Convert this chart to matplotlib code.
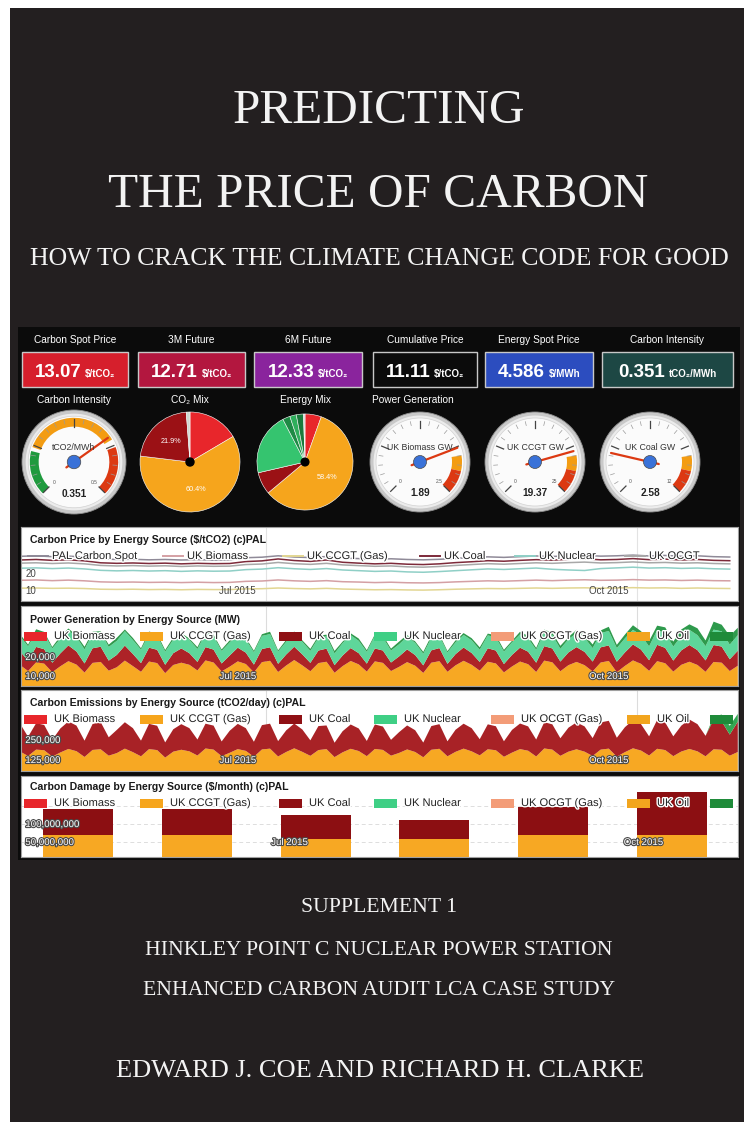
import numpy as np
import matplotlib
matplotlib.use("Agg")
import matplotlib.pyplot as plt
import matplotlib.dates as mdates
import matplotlib.patheffects as pe
from matplotlib.patches import Rectangle, Circle, Wedge

# ------------------------------------------------------------------ data
title_lines = ["PREDICTING", "THE PRICE OF CARBON"]
subtitle = "HOW TO CRACK THE CLIMATE CHANGE CODE FOR GOOD"
bottom_lines = ["SUPPLEMENT 1", "HINKLEY POINT C NUCLEAR POWER STATION",
                "ENHANCED CARBON AUDIT LCA CASE STUDY"]
authors = "EDWARD J. COE AND RICHARD H. CLARKE"

stat_titles = ["Carbon Spot Price", "3M Future", "6M Future",
               "Cumulative Price", "Energy Spot Price", "Carbon Intensity"]
stat_values = ["13.07", "12.71", "12.33", "11.11", "4.586", "0.351"]
stat_units = ["$/tCO₂", "$/tCO₂", "$/tCO₂", "$/tCO₂", "$/MWh", "tCO₂/MWh"]
stat_colors = ["#d61f2c", "#b3173f", "#8a249d", "#0b0b0b", "#2c4dbf", "#1d4744"]

row2_titles = ["Carbon Intensity", "CO₂ Mix", "Energy Mix", "Power Generation"]

# gauges: label, value, max, value text
gauge_labels = ["tCO2/MWh", "UK Biomass GW", "UK CCGT GW", "UK Coal GW"]
gauge_values = [0.351, 1.89, 19.37, 2.58]
gauge_max = [0.5, 2.5, 25, 12]
gauge_max_text = ["0.5", "2.5", "25", "12"]

co2_mix = [16.5, 60.4, 21.9, 1.2]
co2_colors = ["#e8262b", "#f6a51c", "#9b1115", "#cfd8d0"]
energy_mix = [5.5, 58.4, 7.5, 21.0, 2.5, 2.2, 2.4, 0.5]
energy_colors = ["#e8262b", "#f6a51c", "#9b1115", "#35c46f", "#1e8a45",
                 "#2fae5c", "#1a7a3c", "#d0d0d0"]

series_names = ["UK Biomass", "UK CCGT (Gas)", "UK Coal", "UK Nuclear",
                "UK OCGT (Gas)", "UK Oil"]
series_colors = ["#e8262b", "#f6a51c", "#8f1014", "#3fcf85", "#f39c78", "#f2a51e", "#1f8b3a"]

# Panel 1 : carbon price ($/tCO2), every 4 days from 1 May 2015
price_names = ["PAL Carbon Spot", "UK Biomass", "UK CCGT (Gas)", "UK Coal", "UK Nuclear", "UK OCGT"]
price_colors = ["#8f8a98", "#d4a0a4", "#e2d692", "#7d2a3a", "#8fcfc6", "#a8a8a8"]
price_spot = [30.1, 30.4, 29.9, 30.2, 29.7, 28.6, 28.3, 28.4, 28.1,
              28.3, 28.0, 28.2, 27.9, 28.1, 29.3, 29.6, 30.4, 29.7,
              29.4, 30.0, 29.1, 28.8, 28.4, 28.7, 28.3, 28.1, 28.4,
              28.9, 29.4, 29.8, 29.5, 29.9, 30.3, 30.0, 30.4, 30.7,
              30.2, 30.4, 30.8, 30.3, 30.6, 30.1, 30.4, 29.9, 29.7]
price_biomass = [16.4, 16.6, 16.2, 16.5, 16.1, 15.5, 15.3, 15.4, 15.2,
                 15.3, 15.1, 15.3, 15.1, 15.2, 15.8, 16.0, 16.6, 16.1,
                 15.8, 16.2, 15.6, 15.4, 15.1, 15.3, 15.0, 14.9, 15.1,
                 15.5, 15.8, 16.1, 15.9, 16.2, 16.5, 16.2, 16.5, 16.7,
                 16.4, 16.5, 16.8, 16.5, 16.6, 16.3, 16.5, 16.2, 16.1]
price_ccgt = [11.9, 12.0, 11.8, 11.9, 11.7, 11.3, 11.2, 11.3, 11.1,
              11.2, 11.0, 11.2, 11.1, 11.1, 11.5, 11.6, 12.0, 11.7,
              11.5, 11.8, 11.4, 11.2, 11.0, 11.1, 10.9, 10.8, 11.0,
              11.3, 11.5, 11.7, 11.6, 11.8, 12.0, 11.8, 12.0, 12.1,
              11.9, 12.0, 12.2, 12.0, 12.1, 11.8, 12.0, 11.8, 11.7]
price_coal = [28.0, 28.3, 27.8, 28.1, 27.5, 26.4, 26.1, 26.3, 26.0,
              26.2, 25.8, 26.1, 25.9, 26.0, 27.1, 27.5, 28.6, 27.7,
              27.2, 28.0, 26.7, 26.2, 25.8, 26.1, 25.6, 25.4, 25.8,
              26.5, 27.0, 27.6, 27.3, 27.8, 28.2, 27.9, 28.4, 28.7,
              28.1, 28.3, 28.8, 28.2, 28.5, 28.0, 28.3, 27.8, 27.6]
price_nuclear = [23.3, 23.5, 23.1, 23.4, 22.9, 22.1, 21.8, 22.0, 21.7,
                 21.9, 21.5, 21.8, 21.6, 21.7, 22.5, 22.8, 23.6, 23.0,
                 22.6, 23.1, 22.3, 21.9, 21.5, 21.7, 21.2, 21.0, 21.4,
                 21.9, 22.4, 22.9, 22.6, 23.0, 23.4, 22.7, 22.3, 22.0,
                 23.1, 23.5, 23.9, 23.4, 23.6, 23.2, 23.4, 23.0, 22.8]
price_ocgt = [26.2, 26.4, 26.0, 26.3, 25.8, 24.9, 24.6, 24.8, 24.5,
              24.7, 24.3, 24.6, 24.4, 24.5, 25.4, 25.7, 26.6, 25.9,
              25.5, 26.1, 25.2, 24.8, 24.4, 24.6, 24.1, 23.9, 24.3,
              24.9, 25.4, 25.9, 25.6, 26.0, 26.4, 26.1, 26.5, 26.8,
              26.3, 26.5, 26.9, 26.4, 26.6, 26.2, 26.4, 26.0, 25.8]

# Panel 2 : power generation (thousand MW), every 2 days from 1 May 2015
gen_ccgt = [15.8, 12.6, 17.2, 16.5, 12.0, 15.1, 17.8,
            16.0, 11.8, 16.9, 17.4, 12.8, 14.6, 18.1,
            15.2, 12.2, 17.6, 16.8, 11.5, 15.8, 17.0,
            15.9, 12.9, 18.2, 17.1, 12.4, 14.9, 17.7,
            16.3, 11.9, 17.3, 18.0, 12.1, 15.5, 18.4,
            15.6, 12.5, 16.8, 17.5, 11.7, 15.2, 17.9,
            16.1, 12.3, 17.7, 16.9, 12.6, 14.8, 17.3,
            15.4, 11.6, 17.0, 17.8, 12.2, 15.6, 18.0,
            15.9, 12.8, 17.5, 16.6, 11.9, 15.0, 17.6,
            16.2, 12.1, 18.1, 17.2, 12.5, 15.7, 17.4,
            15.7, 12.4, 17.1, 17.9, 12.0, 15.3, 18.2,
            16.4, 12.7, 17.8, 16.7, 12.3, 15.9, 17.5,
            15.8, 12.2, 17.4, 17.0, 12.6, 15.4]
gen_coal = [7.2, 5.4, 8.1, 7.6, 5.0, 6.8, 8.3,
            6.9, 4.8, 7.7, 8.0, 5.3, 6.5, 7.9,
            6.4, 4.6, 7.3, 7.0, 4.4, 6.2, 7.5,
            6.1, 4.5, 7.0, 6.8, 4.2, 5.9, 7.2,
            6.0, 4.1, 6.9, 7.1, 4.3, 5.8, 7.0,
            5.8, 4.4, 6.6, 6.9, 4.0, 5.6, 6.8,
            5.9, 4.2, 6.8, 6.5, 4.5, 5.5, 6.7,
            5.6, 4.0, 6.5, 6.9, 4.2, 5.9, 7.0,
            6.2, 4.6, 7.1, 6.8, 4.4, 6.1, 7.3,
            6.6, 4.9, 7.6, 7.3, 5.1, 6.7, 7.8,
            7.0, 5.2, 8.0, 8.2, 5.5, 7.1, 8.4,
            7.5, 5.6, 8.6, 8.1, 5.8, 7.6, 8.8,
            7.8, 6.0, 8.9, 8.5, 6.2, 7.9]
gen_nuclear = [7.9, 7.6, 7.8, 8.0, 7.5, 7.7, 7.9,
               7.6, 7.4, 7.7, 7.5, 7.2, 7.4, 7.6,
               7.3, 7.0, 7.2, 7.4, 6.9, 7.1, 7.3,
               7.0, 6.8, 7.1, 6.9, 6.6, 6.9, 7.0,
               6.8, 6.5, 6.9, 7.0, 6.4, 6.7, 6.9,
               6.6, 6.3, 6.7, 6.5, 6.2, 6.5, 6.8,
               6.5, 6.2, 6.6, 6.8, 6.3, 6.4, 6.7,
               6.4, 6.1, 6.5, 6.3, 6.0, 6.2, 6.6,
               6.7, 6.4, 6.8, 6.9, 6.5, 6.6, 7.0,
               7.0, 6.8, 7.2, 7.1, 6.7, 7.0, 7.3,
               7.4, 7.1, 7.5, 7.6, 7.2, 7.4, 7.7,
               7.6, 7.3, 7.8, 7.7, 7.4, 7.6, 8.0,
               7.9, 7.5, 8.1, 8.0, 7.7, 8.2]
gen_wind = [1.2, 0.9, 1.5, 1.1, 0.8, 1.3, 1.0,
            0.9, 1.4, 1.0, 0.7, 1.2, 1.6, 0.9,
            1.1, 0.8, 1.3, 1.0, 0.9, 1.2, 0.8,
            0.7, 1.0, 1.4, 0.9, 0.8, 1.1, 1.3,
            1.0, 0.8, 0.9, 1.2, 0.7, 1.0, 1.1,
            0.8, 1.1, 1.0, 0.9, 1.3, 0.8, 1.0,
            1.2, 0.9, 0.8, 1.1, 1.0, 1.4, 0.9,
            0.8, 1.0, 1.2, 0.9, 0.7, 1.1, 1.0,
            1.1, 1.3, 0.9, 1.2, 1.0, 0.8, 1.4,
            1.3, 1.0, 1.5, 1.2, 1.6, 1.1, 1.8,
            1.5, 1.9, 1.4, 2.2, 1.7, 2.0, 2.4,
            2.1, 2.8, 2.3, 3.1, 2.6, 3.4, 2.9,
            3.6, 3.0, 4.2, 3.5, 4.6, 3.9]

# Panel 3 : carbon emissions (thousand tCO2/day), every 2 days
em_ccgt = [178, 150, 190, 186, 146, 172, 194,
           180, 144, 188, 192, 152, 168, 196,
           174, 148, 193, 187, 140, 177, 189,
           179, 153, 197, 190, 149, 170, 193,
           182, 145, 191, 196, 147, 175, 198,
           176, 151, 187, 193, 143, 173, 195,
           181, 149, 194, 188, 152, 169, 191,
           175, 142, 189, 195, 148, 176, 196,
           179, 154, 192, 186, 145, 171, 193,
           183, 147, 197, 190, 151, 177, 192,
           177, 150, 190, 196, 146, 174, 198,
           184, 153, 195, 187, 149, 178, 194,
           179, 148, 192, 189, 152, 175]
em_coal = [175, 120, 165, 158, 105, 150, 172,
           160, 102, 162, 170, 115, 145, 165,
           150, 98, 158, 152, 95, 140, 160,
           145, 100, 155, 150, 92, 138, 158,
           142, 94, 152, 156, 96, 135, 155,
           140, 97, 150, 148, 90, 132, 152,
           141, 95, 153, 146, 99, 130, 150,
           136, 92, 148, 154, 94, 138, 156,
           145, 101, 156, 150, 97, 142, 160,
           152, 106, 164, 158, 110, 150, 168,
           158, 112, 170, 174, 118, 156, 176,
           165, 120, 180, 172, 124, 162, 184,
           170, 128, 186, 178, 132, 190]
em_other = [0, 0, 0, 0, 0, 0, 0, 0, 0, 0, 0, 0, 0, 0, 0, 0, 0, 0,
            0, 0, 0, 0, 0, 0, 0, 0, 0, 0, 0, 0, 0, 0, 0, 0, 0, 0,
            0, 0, 0, 0, 0, 0, 0, 0, 0, 0, 0, 0, 0, 0, 0, 0, 0, 0,
            0, 0, 0, 0, 0, 0, 0, 0, 0, 0, 0, 0, 0, 0, 0, 0, 0, 0,
            0, 0, 0, 0, 0, 0, 0, 0, 0, 0, 0, 0, 0, 0, 18, 42, 55, 48]

# Panel 4 : monthly carbon damage (million $)
dmg_months = ["May 2015", "Jun 2015", "Jul 2015", "Aug 2015", "Sep 2015", "Oct 2015"]
dmg_ccgt = [69, 69, 58, 58, 69, 69]
dmg_coal = [72, 72, 67, 53, 78, 120]

# ------------------------------------------------------------------ setup
W, H = 745, 1122
plt.rcParams['font.family'] = ['Liberation Sans', 'DejaVu Sans']
SERIF = ['Liberation Serif', 'DejaVu Serif']
fig = plt.figure(figsize=(W / 100, H / 100), dpi=100)
fig.patch.set_facecolor('white')


def px_axes(x, y, w, h, z=1):
    return fig.add_axes([x / W, 1 - (y + h) / H, w / W, h / H], zorder=z)


bg = px_axes(0, 0, W, H, 0)
ov = px_axes(0, 0, W, H, 50)
for a in (bg, ov):
    a.set_xlim(0, W)
    a.set_ylim(H, 0)
    a.axis('off')

bg.add_patch(Rectangle((10, 8), W - 11, H - 8, fc='#231f20', ec='none'))
bg.add_patch(Rectangle((18, 327), 722, 533, fc='#0b0b0b', ec='none'))

# titles
tcol = '#f3f3f3'
bg.text(379, 123, title_lines[0], family=SERIF, fontsize=35.5, color=tcol, ha='center', va='baseline')
bg.text(378, 207, title_lines[1], family=SERIF, fontsize=35.5, color=tcol, ha='center', va='baseline')
bg.text(379, 265, subtitle, family=SERIF, fontsize=18.6, color=tcol, ha='center', va='baseline')
for txt, yb in zip(bottom_lines, [912, 955, 995]):
    bg.text(379, yb, txt, family=SERIF, fontsize=15.6, color=tcol, ha='center', va='baseline')
bg.text(380, 1077, authors, family=SERIF, fontsize=19, color=tcol, ha='center', va='baseline')

# ------------------------------------------------------------------ stat boxes
renderer = fig.canvas.get_renderer()
box_x0 = [22, 138, 254, 373, 485, 602]
box_x1 = [128, 245, 362, 477, 593, 733]
for t, v, u, c, x0, x1 in zip(stat_titles, stat_values, stat_units, stat_colors, box_x0, box_x1):
    cx = (x0 + x1) / 2
    ov.text(cx, 340, t, color='white', fontsize=7.3, ha='center', va='center')
    bg.add_patch(Rectangle((x0, 352), x1 - x0, 35, fc=c, ec='#c8c8c8', lw=1.0))
    tv = ov.text(0, 377, v, fontsize=13.5, weight='bold', color='white', va='baseline', ha='left')
    tu = ov.text(0, 377, u, fontsize=7, weight='bold', color='white', va='baseline', ha='left')
    wv = tv.get_window_extent(renderer).width
    wu = tu.get_window_extent(renderer).width
    start = cx - (wv + 4 + wu) / 2
    tv.set_x(start)
    tu.set_x(start + wv + 4)

row2_x = [74, 190, 305, 372]
for i, (t, x) in enumerate(zip(row2_titles, row2_x)):
    ov.text(x, 400, t, color='white', fontsize=7.3, ha='left' if i == 3 else 'center', va='center')

# ------------------------------------------------------------------ gauges


def gauge(cx, cy, R, label, value, vmax, maxtxt, bands):
    ax = px_axes(cx - R - 2, cy - R - 2, 2 * R + 4, 2 * R + 4, 5)
    s = (R + 2) / R
    ax.set_xlim(-s, s)
    ax.set_ylim(-s, s)
    ax.axis('off')
    ax.add_patch(Circle((0, 0), 1.0, fc='#c9c9c9', ec='#8d8d8d', lw=0.6))
    ax.add_patch(Circle((0, 0), 0.93, fc='#ececec', ec='none'))
    ax.add_patch(Circle((0, 0), 0.88, fc='#fbfbfb', ec='#d2d2d2', lw=0.5))

    def ang(v):
        return 225 - 270 * v / vmax
    for lo, hi, col, rout, wd in bands:
        ax.add_patch(Wedge((0, 0), rout, ang(hi), ang(lo), width=wd, fc=col, ec='none'))
    for k in range(21):
        a = np.radians(225 - 270 * k / 20)
        major = k % 5 == 0
        r0 = 0.68 if major else 0.75
        ax.plot([r0 * np.cos(a), 0.83 * np.cos(a)], [r0 * np.sin(a), 0.83 * np.sin(a)],
                color='#444444' if major else '#9a9a9a', lw=0.9 if major else 0.5)
    ax.text(0, 0.28, label, fontsize=6.3, color='#333333', ha='center', va='center')
    a = np.radians(ang(value))
    ax.plot([-0.18 * np.cos(a), 0.80 * np.cos(a)], [-0.18 * np.sin(a), 0.80 * np.sin(a)],
            color='#dc3912', lw=1.6, solid_capstyle='round')
    ax.add_patch(Circle((0, 0), 0.13, fc='#3a72d8', ec='#4a4a4a', lw=0.5, zorder=5))
    ax.text(0, -0.62, f"{value:g}", fontsize=7.3, weight='bold', color='#222222', ha='center', va='center')
    a0 = np.radians(225)
    a1 = np.radians(-45)
    ax.text(0.55 * np.cos(a0), 0.55 * np.sin(a0), "0", fontsize=3.5, color='#555555', ha='center', va='center')
    ax.text(0.55 * np.cos(a1), 0.55 * np.sin(a1), maxtxt, fontsize=3.5, color='#555555', ha='center', va='center')


g_centers = [(74, 462, 52), (420, 462, 50), (535, 462, 50), (650, 462, 50)]
g1_bands = [(0.0, 0.11, '#1f9a3e', 0.85, 0.17), (0.12, 0.36, '#f39c12', 0.85, 0.17),
            (0.38, 0.5, '#dc3912', 0.85, 0.17)]
for i, ((cx, cy, R), lab, v, vm, mt) in enumerate(zip(g_centers, gauge_labels, gauge_values,
                                                    gauge_max, gauge_max_text)):
    if i == 0:
        bands = g1_bands
    else:
        bands = [(0.80 * vm, 0.88 * vm, '#f39c12', 0.84, 0.2), (0.88 * vm, vm, '#dc3912', 0.84, 0.2)]
    gauge(cx, cy, R, lab, v, vm, mt, bands)

# ------------------------------------------------------------------ pies


def pie(cx, cy, R, vals, cols, thr):
    ax = px_axes(cx - R, cy - R, 2 * R, 2 * R, 5)
    ax.pie(vals, colors=cols, startangle=90, counterclock=False, radius=1.0,
           autopct=lambda p: f'{p:.1f}%' if p > thr else '', pctdistance=0.56,
           textprops=dict(color='white', fontsize=5.2),
           wedgeprops=dict(edgecolor='white', linewidth=0.4))
    ax.set_xlim(-1.02, 1.02)
    ax.set_ylim(-1.02, 1.02)
    ax.add_patch(Circle((0, 0), 0.08, color='black', zorder=5))


pie(190, 462, 51, co2_mix, co2_colors, 20)
pie(305, 462, 49, energy_mix, energy_colors, 25)

# ------------------------------------------------------------------ panels
jul1 = mdates.date2num(np.datetime64('2015-07-01'))
oct1 = mdates.date2num(np.datetime64('2015-10-01'))
scale = (637 - 266) / (oct1 - jul1)
XL = (jul1 - (266 - 21) / scale, oct1 + (738 - 637) / scale)
label_dates = [jul1 - 7, oct1 - 7]
label_txt = ["Jul 2015", "Oct 2015"]


def day_axis(n, step):
    return mdates.date2num(np.datetime64('2015-05-01') + np.arange(n) * np.timedelta64(step, 'D'))


def panel(y, h):
    ax = px_axes(21, y, 717, h, 10)
    ax.set_facecolor('white')
    for s in ax.spines.values():
        s.set_color('#a0a0a0')
        s.set_linewidth(0.8)
    ax.set_xticks([])
    ax.set_yticks([])
    return ax


halo_dark = [pe.withStroke(linewidth=1.6, foreground='#4a4a4a')]
halo_white = [pe.withStroke(linewidth=2.0, foreground='white')]


def ticklabels(ax, yvals, ytxt, xpos, xtxt, light):
    kw = dict(fontsize=7, zorder=20)
    if light:
        kw.update(color='white', path_effects=halo_dark)
    else:
        kw.update(color='#444444')
    for v, t in zip(yvals, ytxt):
        ax.text(0.006, v, t, transform=ax.get_yaxis_transform(), ha='left', va='center', **kw)
    for x, t in zip(xpos, xtxt):
        ax.text(x, min(yvals), t, ha='center', va='center', **kw)


def legend_rects(y, names, cols):
    xs = [24, 140, 279, 374, 491, 627, 710]
    for i, x in enumerate(xs):
        ov.add_patch(Rectangle((x, y - 4.5), 23, 9, fc=cols[i], ec='none'))
        if i < len(names):
            ov.text(x + 30, y, names[i], fontsize=8, color='#222222', va='center', ha='left',
                    path_effects=halo_white)


def panel_title(y, t):
    ov.text(30, y, t, fontsize=7.6, weight='bold', color='#1a1a1a', va='center', ha='left')


# Panel 1
ax1 = panel(527, 74)
ax1.set_xlim(*XL)
ax1.set_ylim(20 - (601 - 574) / 1.75, 20 + (574 - 527) / 1.75)
for d in (jul1, oct1):
    ax1.axvline(d, color='#e3e3e3', lw=0.8, zorder=0)
price_series = [price_spot, price_biomass, price_ccgt, price_coal, price_nuclear, price_ocgt]
for s, c in zip(price_series, price_colors):
    ax1.plot(day_axis(len(s), 4), s, color=c, lw=1.1)
ticklabels(ax1, [20, 10], ["20", "10"], label_dates, label_txt, False)
panel_title(540, "Carbon Price by Energy Source ($/tCO2) (c)PAL")
lx = [28, 163, 283, 420, 515, 625]
for x, n, c in zip(lx, price_names, price_colors):
    ov.plot([x, x + 20], [556, 556], color=c, lw=1.4)
    ov.text(x + 24, 556, n, fontsize=8, color='#222222', va='center', ha='left', path_effects=halo_white)

# Panel 2
ax2 = panel(606, 80)
ax2.set_xlim(*XL)
ax2.set_ylim(20 - (686 - 657) / 1.9, 20 + (657 - 606) / 1.9)
for d in (jul1, oct1):
    ax2.axvline(d, color='#dcdcdc', lw=0.8, zorder=0)
ax2.stackplot(day_axis(len(gen_ccgt), 2), gen_ccgt, gen_coal, gen_nuclear, gen_wind,
              colors=['#f7a823', '#ad2327', '#5ed69a', '#2e9a4c'], lw=0, zorder=2)
ticklabels(ax2, [20, 10], ["20,000", "10,000"], label_dates, label_txt, True)
panel_title(620, "Power Generation by Energy Source (MW)")
legend_rects(636, series_names, series_colors)

# Panel 3
ax3 = panel(690, 81)
ax3.set_xlim(*XL)
ax3.set_ylim(250 - (771 - 740) * 6.25, 250 + (740 - 690) * 6.25)
for d in (jul1, oct1):
    ax3.axvline(d, color='#dcdcdc', lw=0.8, zorder=0)
ax3.stackplot(day_axis(len(em_ccgt), 2), em_ccgt, em_coal, em_other,
              colors=['#f7a823', '#a82226', '#34a853'], lw=0, zorder=2)
ticklabels(ax3, [250, 125], ["250,000", "125,000"], label_dates, label_txt, True)
panel_title(703, "Carbon Emissions by Energy Source (tCO2/day) (c)PAL")
legend_rects(719, series_names, series_colors)

# Panel 4
ax4 = panel(776, 81)
idx = np.arange(len(dmg_months))
ax4.set_xlim((21 - 78) / 118.8, (738 - 78) / 118.8)
ax4.set_ylim(100 - (857 - 824) * 50 / 18, 100 + (824 - 776) * 50 / 18)
for gy in (50, 100, 150):
    ax4.axhline(gy, color='#dddddd', lw=0.7, ls=(0, (4, 3)), zorder=0)
ax4.bar(idx, dmg_ccgt, width=0.59, color='#f7a823', zorder=2)
ax4.bar(idx, dmg_coal, bottom=dmg_ccgt, width=0.59, color='#8c0f12', zorder=2)
ticklabels(ax4, [100, 50], ["100,000,000", "50,000,000"], [2 - 0.22, 5 - 0.24], label_txt, True)
panel_title(787, "Carbon Damage by Energy Source ($/month) (c)PAL")
legend_rects(803, series_names, series_colors)

fig.savefig("out.png", dpi=100)
